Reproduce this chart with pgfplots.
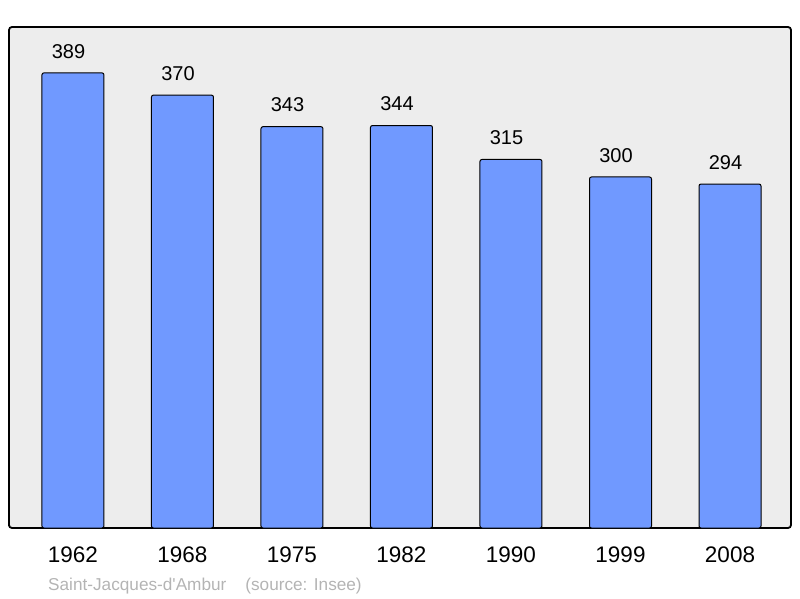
\documentclass[border=0pt]{standalone}
\usepackage{pgfplots}
\pgfplotsset{compat=1.18}
\usepackage{fontspec}
\setmainfont{Liberation Sans}
\definecolor{barblue}{HTML}{7099FF}
\definecolor{bggray}{HTML}{EDEDED}
\definecolor{srcgray}{HTML}{B4B4B4}
\begin{document}
\begin{tikzpicture}[x=1pt,y=1pt]
\path[use as bounding box] (0,0) rectangle (800,598);
\begin{axis}[
  at={(9pt,70pt)}, anchor=south west,
  scale only axis, width=782pt, height=501pt,
  xmin=-0.584, xmax=6.557, ymin=0, ymax=428.2,
  /pgf/number format/assume math mode=true,
  axis background/.style={fill=bggray},
  axis line style={line width=1.8pt, rounded corners=3pt},
  ytick=\empty,
  xtick={0,1,2,3,4,5,6},
  xticklabels={1962,1968,1975,1982,1990,1999,2008},
  major tick length=0pt,
  xticklabel style={font=\fontsize{22.5}{26}\selectfont, anchor=north, inner sep=0pt, yshift=-19pt},
  ybar, bar width=62pt,
  nodes near coords,
  every node near coord/.append style={font=\fontsize{20}{24}\selectfont, anchor=south, inner sep=0pt, yshift=14pt, xshift=-4.5pt, black},
  clip=false,
]
\addplot[fill=barblue, draw=black, line width=1pt, rounded corners=2pt] coordinates {
(0,389) (1,370) (2,343) (3,344) (4,315) (5,300) (6,294)};
\end{axis}
\node[anchor=base west, inner sep=0pt, text=srcgray, font=\fontsize{17.2}{20}\selectfont] at (48,8) {Saint-Jacques-d\textquotesingle Ambur\hspace{19pt}(source: Insee)};
\end{tikzpicture}
\end{document}
